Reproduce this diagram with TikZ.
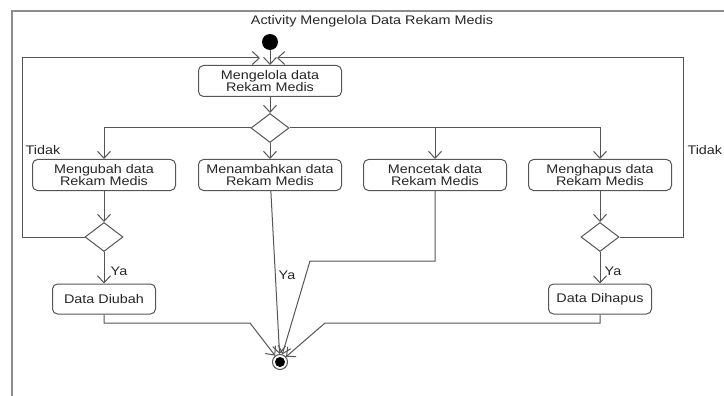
\documentclass[tikz,border=0pt]{standalone}
\usepackage{fontspec}
\setmainfont{Liberation Sans}[FakeStretch=1.15]
\usetikzlibrary{arrows.meta,shapes.geometric}
\definecolor{ln}{HTML}{555555}
\tikzstyle{es} = [-{Straight Barb[length=7pt,width=13pt]}]
\tikzstyle{act} = [draw=ln, rounded corners=5pt, minimum width=143pt, minimum height=31pt, align=center, inner sep=1pt]
\tikzstyle{fin} = [draw=ln, rounded corners=5pt, minimum width=103pt, minimum height=30pt, inner sep=1pt]
\tikzstyle{dec} = [draw=ln, diamond, minimum width=38pt, minimum height=29pt, inner sep=0pt]
\tikzstyle{lbl} = [inner sep=1pt]

\begin{document}
\begin{tikzpicture}[x=1pt,y=-1pt,line width=1pt,color=ln,
    every node/.style={text=black!85,font=\fontsize{12.5}{12}\selectfont}]
			\useasboundingbox (0,0) rectangle (724,396);
			\draw [black!45,line width=1.3pt] (12,396) -- (12,11) -- (724,11);
			\node[lbl] (title) at (372,21) {Activity Mengelola Data Rekam Medis};
			\node[circle,fill=black,minimum size=16pt,inner sep=0pt] (start) at (270,42) {};
			\node[act] (mgl) at (270,81) {Mengelola data\\Rekam Medis};
			\node[dec] (d0) at (270,128) {};
			\node[act] (ubah) at (104,175) {Mengubah data\\Rekam Medis};
			\node[act] (tambah) at (270,175) {Menambahkan data\\Rekam Medis};
			\node[act] (cetak) at (435,175) {Mencetak data\\Rekam Medis};
			\node[act] (hapus) at (600,175) {Menghapus data\\Rekam Medis};
			\node[dec] (d1) at (104,237) {};
			\node[dec] (d2) at (600,237) {};
			\node[fin] (diubah) at (104,299) {Data Diubah};
			\node[fin] (dihapus) at (600,299) {Data Dihapus};
			\node[circle,draw=ln,minimum size=15pt,inner sep=0pt,
			  path picture={\fill[black] (path picture bounding box.center) circle (5pt);}] (end) at (280,362) {};
			\node[lbl] at (43,150) {Tidak};
			\node[lbl,anchor=west] at (686,150) {Tidak};
			\node[lbl] at (119,271) {Ya};
			\node[lbl] at (287,275) {Ya};
			\node[lbl] at (613,271) {Ya};
			\coordinate (kL) at (22,237);
			\coordinate (kR) at (683,237);
			\coordinate (inL) at (260,58);
			\coordinate (inR) at (277,58);
			\coordinate (k1) at (250,323);
			\coordinate (k3) at (310,261);
			\coordinate (k4) at (325,323);
			\draw [es] (start) -- (mgl);
			\draw [es] (mgl) -- (d0);
			\draw [es] (d0.west) -| (ubah);
			\draw [es] (d0) -- (tambah);
			\draw [es] (d0.east) -| (cetak);
			\draw [es] (d0.east) -| (hapus);
			\draw [es] (ubah) -- (d1);
			\draw [es] (hapus) -- (d2);
			\draw [es] (d1) -- (diubah);
			\draw [es] (d2) -- (dihapus);
			\draw [es] (d1.west) -- (kL) |- (inL);
			\draw [es] (d2.east) -- (kR) |- (inR);
			\draw [es] (diubah) |- (k1) -- (end);
			\draw [es] (tambah) -- (end);
			\draw [es] (cetak) |- (k3) -- (end);
			\draw [es] (dihapus) |- (k4) -- (end);
		\end{tikzpicture}
\end{document}
